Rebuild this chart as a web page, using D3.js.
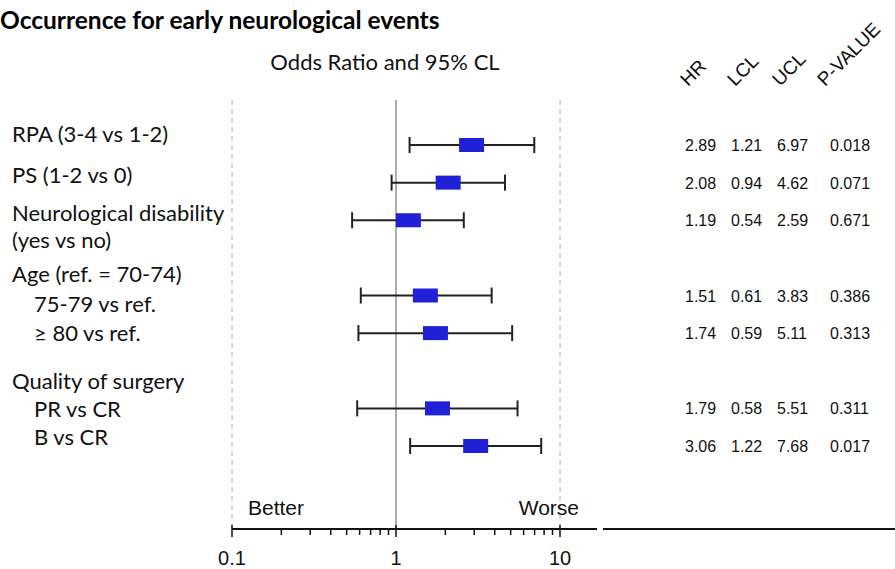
<!DOCTYPE html>
<html>
<head>
<meta charset="utf-8">
<script src="https://cdn.jsdelivr.net/npm/d3@7"></script>
<style>
body{margin:0;background:#fff;}
svg{display:block;}
.lab{font-family:Lato,"Open Sans",sans-serif;font-size:22px;fill:#111;}
.num{font-family:"Liberation Sans",Arial,sans-serif;font-size:16px;fill:#111;}
</style>
</head>
<body>
<svg id="chart"></svg>
<script>
// estimates per row (only rows with a marker)
var rowNames=["RPA (3-4 vs 1-2)","PS (1-2 vs 0)","Neurological disability (yes vs no)","75-79 vs ref.","\u2265 80 vs ref.","PR vs CR","B vs CR"];
var rowSlot=[0,1,2,4,5,7,8];
var hr=[2.89,2.08,1.19,1.51,1.74,1.79,3.06];
var lcl=[1.21,0.94,0.54,0.61,0.59,0.58,1.22];
var ucl=[6.97,4.62,2.59,3.83,5.11,5.51,7.68];
var pval=["0.018","0.071","0.671","0.386","0.313","0.311","0.017"];
var hrTxt=["2.89","2.08","1.19","1.51","1.74","1.79","3.06"];
var lclTxt=["1.21","0.94","0.54","0.61","0.59","0.58","1.22"];
var uclTxt=["6.97","4.62","2.59","3.83","5.11","5.51","7.68"];
var colHeads=["HR","LCL","UCL","P-VALUE"];
// text lines on the left, with the slot they sit at
var labelLines=["RPA (3-4 vs 1-2)","PS (1-2 vs 0)","Neurological disability","(yes vs no)","Age (ref. = 70-74)","75-79 vs ref.","\u2265 80 vs ref.","Quality of surgery","PR vs CR","B vs CR"];
var labelSlot=[-0.27,0.82,1.83,2.55,3.46,4.25,5.02,6.30,7.04,7.79];
var labelIndent=[0,0,0,0,0,1,1,0,1,1];
var xTicks=[0.1,1,10];

var w=895,h=569;
var svg=d3.select("#chart").attr("width",w).attr("height",h);

var x=d3.scaleLog().domain([0.1,10]).range([232,560]);
var y=d3.scaleLinear().domain([0,8]).range([145,446]);
var axisY=529, plotTop=100;

svg.append("text")
   .attr("x",0).attr("y",29)
   .style("font-family","Lato,'Open Sans',sans-serif")
   .style("font-weight","bold").style("font-size","24.5px")
   .text("Occurrence for early neurological events");
svg.append("text").attr("class","lab")
   .attr("x",385).attr("y",70).attr("text-anchor","middle")
   .text("Odds Ratio and 95% CL");

// reference lines
svg.selectAll("line.ref")
   .data([0.1,10])
   .enter().append("line")
   .attr("x1",function(d){return x(d);}).attr("x2",function(d){return x(d);})
   .attr("y1",plotTop).attr("y2",axisY)
   .attr("stroke","#aaa").attr("stroke-dasharray","5,4");
svg.append("line")
   .attr("x1",x(1)).attr("x2",x(1))
   .attr("y1",plotTop).attr("y2",axisY)
   .attr("stroke","#777").attr("stroke-width",1.2);

// x axis
var gx=svg.append("g").attr("transform","translate(0,"+axisY+")");
gx.append("line").attr("x1",x(0.1)).attr("x2",597).attr("stroke","#111").attr("stroke-width",2);
gx.append("line").attr("x1",603).attr("x2",w).attr("stroke","#111").attr("stroke-width",2);
var minor=x.ticks().filter(function(d){return xTicks.indexOf(d)<0;});
gx.selectAll("line.minor").data(minor).enter().append("line")
  .attr("x1",function(d){return x(d);}).attr("x2",function(d){return x(d);})
  .attr("y1",0).attr("y2",6).attr("stroke","#111").attr("stroke-width",1.5);
gx.selectAll("line.major").data(xTicks).enter().append("line")
  .attr("x1",function(d){return x(d);}).attr("x2",function(d){return x(d);})
  .attr("y1",-4).attr("y2",8).attr("stroke","#111").attr("stroke-width",1.5);
gx.selectAll("text").data(xTicks).enter().append("text")
  .attr("class","num").style("font-size","20px")
  .attr("x",function(d){return x(d);}).attr("y",36).attr("text-anchor","middle")
  .text(function(d){return d;});

svg.append("text").attr("class","num").style("font-size","21px")
   .attr("x",248).attr("y",515).text("Better");
svg.append("text").attr("class","num").style("font-size","21px")
   .attr("x",579).attr("y",515).attr("text-anchor","end").text("Worse");

// left labels
svg.selectAll("text.rowlab").data(labelLines).enter().append("text")
   .attr("class","lab")
   .attr("x",function(d,i){return labelIndent[i]?34:12;})
   .attr("y",function(d,i){return y(labelSlot[i])+7;})
   .text(function(d){return d;});

// error bars and markers
var rows=svg.selectAll("g.row").data(hr).enter().append("g")
   .attr("transform",function(d,i){return "translate(0,"+y(rowSlot[i])+")";});
rows.append("line")
   .attr("x1",function(d,i){return x(lcl[i]);}).attr("x2",function(d,i){return x(ucl[i]);})
   .attr("stroke","#222").attr("stroke-width",2);
rows.append("line")
   .attr("x1",function(d,i){return x(lcl[i]);}).attr("x2",function(d,i){return x(lcl[i]);})
   .attr("y1",-8).attr("y2",8).attr("stroke","#222").attr("stroke-width",2);
rows.append("line")
   .attr("x1",function(d,i){return x(ucl[i]);}).attr("x2",function(d,i){return x(ucl[i]);})
   .attr("y1",-8).attr("y2",8).attr("stroke","#222").attr("stroke-width",2);
rows.append("rect")
   .attr("x",function(d){return x(d)-12.5;}).attr("y",-7)
   .attr("width",25).attr("height",14)
   .attr("fill","#2020d6");

// table columns
var cols=[hrTxt,lclTxt,uclTxt,pval];
var colX=[685,731,777,830];
cols.forEach(function(c,k){
  svg.selectAll("text.c"+k).data(c).enter().append("text")
     .attr("class","num")
     .attr("x",colX[k])
     .attr("y",function(d,i){return y(rowSlot[i])+6;})
     .text(function(d){return d;});
});
var headX=[688,735,780,825];
svg.selectAll("text.head").data(colHeads).enter().append("text")
   .attr("class","num").style("font-size","19px")
   .attr("transform",function(d,i){return "translate("+headX[i]+",87) rotate(-45)";})
   .text(function(d){return d;});
</script>
</body>
</html>
